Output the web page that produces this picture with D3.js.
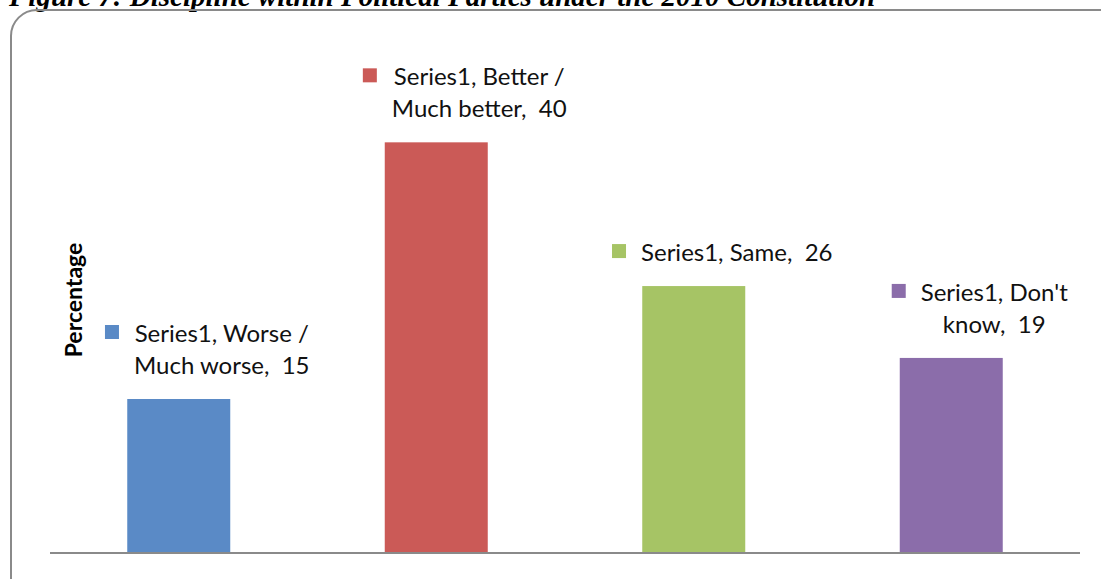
<!DOCTYPE html>
<html>
<head>
<meta charset="utf-8">
<script src="https://cdn.jsdelivr.net/npm/d3@7"></script>
<style>
  body { margin: 0; background: #fff; }
  svg { display: block; }
</style>
</head>
<body>
<svg id="graph"></svg>
<script>
//data
var seriesName = "Series1"
var categories = ["Worse / Much worse", "Better / Much better", "Same", "Don't know"]
var values = [15, 40, 26, 19]
var colors = ["#5A8AC6", "#CB5A57", "#A6C465", "#8B6DAA"]
var title = "Figure 7: Discipline within Political Parties under the 2010 Constitution"

var W = 1101, H = 579
var svg = d3.select('#graph').attr('width', W).attr('height', H)

//plot area
var plot = { left: 50, right: 1080, bottom: 553, top: 91 }

//title (clipped at top like the source)
svg.append('text')
  .attr('x', 9).attr('y', 6)
  .style('font-family', '"Liberation Serif", "Times New Roman", serif')
  .style('font-weight', 'bold').style('font-style', 'italic')
  .style('font-size', '29px')
  .text(title)

//rounded frame
svg.append('rect')
  .attr('x', 11).attr('y', 10)
  .attr('width', 1115).attr('height', 600)
  .attr('rx', 26).attr('ry', 26)
  .attr('fill', 'none')
  .attr('stroke', '#8a8a8a').attr('stroke-width', 2)

//scales
var x = d3.scaleBand().domain(categories).range([plot.left, plot.right])
  .paddingInner(0.6).paddingOuter(0.3)
var y = d3.scaleLinear().domain([0, 45]).range([plot.bottom, plot.top])

//bars
svg.selectAll('.bar')
  .data(categories)
  .enter().append('rect')
  .attr('class', 'bar')
  .attr('x', function(d) { return x(d) })
  .attr('width', x.bandwidth())
  .attr('y', function(d, i) { return y(values[i]) })
  .attr('height', function(d, i) { return y(0) - y(values[i]) })
  .attr('fill', function(d, i) { return colors[i] })

//x axis line
svg.append('line')
  .attr('x1', plot.left).attr('x2', plot.right)
  .attr('y1', y(0)).attr('y2', y(0))
  .attr('stroke', '#8a8a8a').attr('stroke-width', 2)

//y axis title
svg.append('text')
  .attr('transform', 'translate(82,300) rotate(-90)')
  .attr('text-anchor', 'middle')
  .style('font-family', 'Lato, sans-serif')
  .style('font-weight', 'bold').style('font-size', '23px')
  .text('Percentage')

//data labels
var labelFont = { family: 'Lato, sans-serif', size: 24 }
var lineH = 32, maxW = 200

categories.forEach(function(cat, i) {
  var full = seriesName + ", " + cat + ",  " + values[i]
  var g = svg.append('g')
  var cx = x(cat) + x.bandwidth() / 2 + 43
  //wrap words
  var words = full.split(' ')
  var lines = []
  var cur = ''
  var probe = g.append('text')
    .style('font-family', labelFont.family).style('font-size', labelFont.size + 'px')
    .style('white-space', 'pre')
  words.forEach(function(w) {
    var test = cur === '' ? w : cur + ' ' + w
    probe.text(test)
    if (cur !== '' && w !== '' && probe.node().getComputedTextLength() > maxW) {
      lines.push(cur)
      cur = w
    } else {
      cur = test
    }
  })
  lines.push(cur)
  probe.remove()

  var lastBase = y(values[i]) - 25
  var widest = 0
  lines.forEach(function(l, j) {
    var t = g.append('text')
      .attr('x', cx)
      .attr('y', lastBase - (lines.length - 1 - j) * lineH)
      .attr('text-anchor', 'middle')
      .style('font-family', labelFont.family).style('font-size', labelFont.size + 'px')
      .style('white-space', 'pre')
      .attr('fill', '#111')
      .text(l)
    widest = Math.max(widest, t.node().getComputedTextLength())
  })
  //legend key square
  var firstBase = lastBase - (lines.length - 1) * lineH
  g.append('rect')
    .attr('x', cx - widest / 2 - 29)
    .attr('y', firstBase - 17)
    .attr('width', 14).attr('height', 14)
    .attr('fill', colors[i])
})
</script>
</body>
</html>
